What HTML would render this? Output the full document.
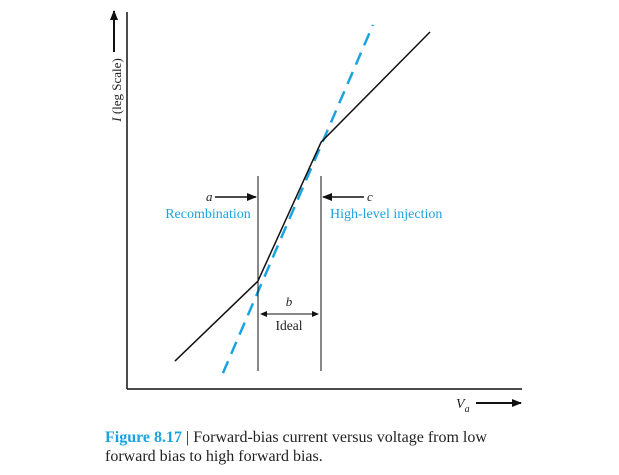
<!DOCTYPE html>
<html><head><meta charset="utf-8"><style>
body{margin:0;background:#fff;}
svg{display:block;font-family:"Liberation Serif",serif;}
</style></head><body>
<svg id="chart" width="619" height="475" viewBox="0 0 619 475">
<defs>
<marker id="ah" markerWidth="10" markerHeight="8" refX="9" refY="4" orient="auto" markerUnits="userSpaceOnUse"><path d="M0,0 L10,4 L0,8 z" fill="#111"/></marker>
<marker id="sh" markerWidth="7" markerHeight="6" refX="6" refY="3" orient="auto-start-reverse" markerUnits="userSpaceOnUse"><path d="M0,0 L7,3 L0,6 z" fill="#111"/></marker>
</defs>
<g id="axes">
<line x1="127" y1="12" x2="127" y2="389" stroke="#111" stroke-width="1.5"/>
<line x1="127" y1="389" x2="522" y2="389" stroke="#111" stroke-width="1.5"/>
<line x1="114" y1="52" x2="114" y2="11" stroke="#111" stroke-width="2" marker-end="url(#ah)"/>
<text transform="translate(121,90) rotate(-90)" text-anchor="middle" font-size="13" fill="#222"><tspan font-style="italic">I</tspan> (leg Scale)</text>
<text x="456" y="408" font-size="14" font-style="italic" fill="#222">V<tspan font-size="10" dy="4">a</tspan></text>
<line x1="476" y1="403" x2="521" y2="403" stroke="#111" stroke-width="2" marker-end="url(#ah)"/>
</g>
<g id="marks"></g>
<g id="annotations">
<line x1="258" y1="176" x2="258" y2="371" stroke="#111" stroke-width="1"/>
<line x1="321" y1="176" x2="321" y2="371" stroke="#111" stroke-width="1"/>
<text x="206" y="201" font-size="13" font-style="italic" fill="#222">a</text>
<line x1="215" y1="197" x2="256" y2="197" stroke="#111" stroke-width="1.5" marker-end="url(#ah)"/>
<text x="208" y="218" font-size="14" fill="#1aa3e0" text-anchor="middle">Recombination</text>
<line x1="364" y1="197" x2="323" y2="197" stroke="#111" stroke-width="1.5" marker-end="url(#ah)"/>
<text x="367" y="201" font-size="13" font-style="italic" fill="#222">c</text>
<text x="330" y="218" font-size="14" fill="#1aa3e0">High-level injection</text>
<text x="289" y="306" font-size="13" font-style="italic" fill="#222" text-anchor="middle">b</text>
<line x1="261" y1="314" x2="318" y2="314" stroke="#111" stroke-width="1" marker-start="url(#sh)" marker-end="url(#sh)"/>
<text x="289" y="330" font-size="13.5" fill="#222" text-anchor="middle">Ideal</text>
</g>
<g id="caption" font-size="16">
<text x="105" y="442" fill="#222"><tspan fill="#1aa3e0" font-weight="bold">Figure 8.17</tspan> | Forward-bias current versus voltage from low</text>
<text x="105" y="461" fill="#222">forward bias to high forward bias.</text>
</g>
</svg>
<script>
const actualX = [12.2, 33.3, 49.4, 77.1];
const actualY = [7.4, 28.6, 65.5, 94.7];
const idealX = [24.4, 62.6];
const idealY = [4.2, 96.6];
function xScale(v){return 127 + v*3.93;}
function yScale(v){return 389 - v*3.77;}
const NS='http://www.w3.org/2000/svg';
const g=document.getElementById('marks');
function pts(xs,ys){return xs.map((x,i)=>xScale(x)+','+yScale(ys[i])).join(' ');}
const ideal=document.createElementNS(NS,'polyline');
ideal.setAttribute('points',pts(idealX,idealY));
ideal.setAttribute('fill','none');ideal.setAttribute('stroke','#1aa3e0');
ideal.setAttribute('stroke-width','2.5');ideal.setAttribute('stroke-dasharray','13,8');


g.appendChild(ideal);
const act=document.createElementNS(NS,'polyline');
act.setAttribute('points',pts(actualX,actualY));
act.setAttribute('fill','none');act.setAttribute('stroke','#111');act.setAttribute('stroke-width','1.5');


g.appendChild(act);
</script>
</body></html>
